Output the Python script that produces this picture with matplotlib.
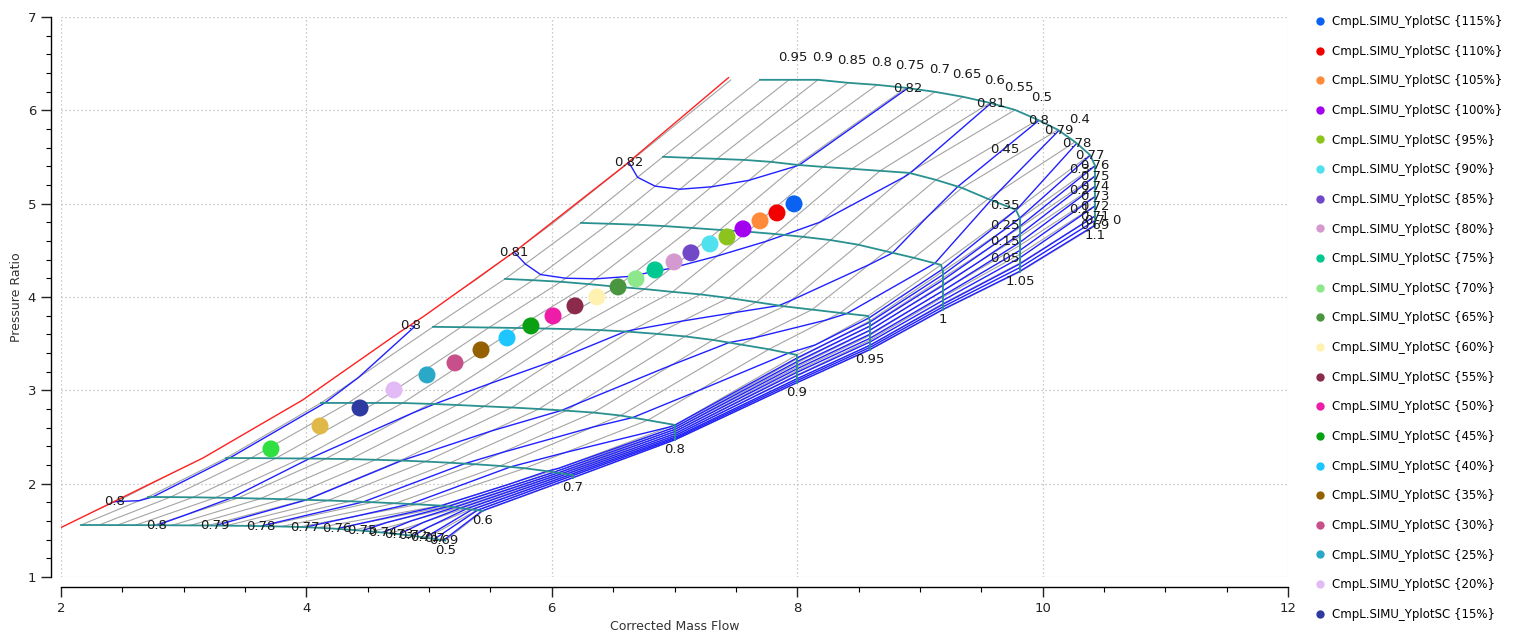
import numpy as np
import matplotlib
matplotlib.use("Agg")
import matplotlib.pyplot as plt
from matplotlib.path import Path
from matplotlib.patches import PathPatch
from matplotlib.collections import LineCollection
from matplotlib.lines import Line2D
from matplotlib.ticker import MultipleLocator

# ---- compressor map tables: rows = corrected speed, columns = beta ----
SPEED = [0.5, 0.6, 0.7, 0.8, 0.9, 0.95, 1.0, 1.05, 1.1]
BETA = [1.1, 1.05, 1.0, 0.95, 0.9, 0.85, 0.8, 0.75, 0.7, 0.65, 0.6, 0.55,
        0.5, 0.45, 0.4, 0.35, 0.3, 0.25, 0.2, 0.15, 0.1, 0.05, 0.0]

MASS_FLOW = [
    [1.867, 2.015, 2.163, 2.311, 2.460, 2.608, 2.757, 2.905, 3.053, 3.202, 3.350, 3.499,
     3.647, 3.795, 3.944, 4.092, 4.241, 4.389, 4.537, 4.686, 4.834, 4.983, 5.131],
    [2.343, 2.526, 2.709, 2.892, 3.076, 3.259, 3.442, 3.626, 3.809, 3.992, 4.175, 4.359,
     4.542, 4.725, 4.909, 5.092, 5.142, 5.191, 5.241, 5.290, 5.340, 5.389, 5.439],
    [2.939, 3.142, 3.345, 3.548, 3.751, 3.954, 4.157, 4.360, 4.563, 4.766, 4.969, 5.172,
     5.375, 5.578, 5.781, 5.985, 6.016, 6.048, 6.079, 6.110, 6.142, 6.173, 6.173],
    [3.675, 3.897, 4.119, 4.341, 4.563, 4.785, 5.007, 5.229, 5.451, 5.673, 5.895, 6.117,
     6.339, 6.561, 6.783, 7.004, 7.004, 7.004, 7.004, 7.004, 7.004, 7.004, 7.004],
    [4.576, 4.804, 5.032, 5.260, 5.488, 5.717, 5.945, 6.173, 6.401, 6.629, 6.857, 7.085,
     7.314, 7.542, 7.770, 7.998, 7.998, 7.998, 7.998, 7.998, 7.998, 7.998, 7.998],
    [5.164, 5.392, 5.619, 5.847, 6.074, 6.302, 6.529, 6.757, 6.984, 7.212, 7.439, 7.667,
     7.894, 8.122, 8.349, 8.577, 8.593, 8.593, 8.593, 8.593, 8.593, 8.593, 8.593],
    [5.786, 6.012, 6.238, 6.464, 6.690, 6.916, 7.142, 7.368, 7.594, 7.820, 8.046, 8.272,
     8.498, 8.724, 8.950, 9.172, 9.188, 9.188, 9.188, 9.188, 9.188, 9.188, 9.188],
    [6.466, 6.686, 6.906, 7.126, 7.346, 7.566, 7.786, 7.998, 8.210, 8.447, 8.675, 8.911,
     9.131, 9.343, 9.555, 9.783, 9.816, 9.816, 9.816, 9.816, 9.816, 9.816, 9.816],
    [7.225, 7.461, 7.697, 7.933, 8.169, 8.414, 8.650, 8.887, 9.123, 9.351, 9.571, 9.775,
     9.962, 10.125, 10.264, 10.386, 10.427, 10.427, 10.427, 10.427, 10.427, 10.427, 10.427],
]

PRESSURE_RATIO = [
    [1.557, 1.557, 1.557, 1.557, 1.556, 1.556, 1.555, 1.554, 1.553, 1.552, 1.550, 1.548,
     1.545, 1.541, 1.536, 1.528, 1.517, 1.503, 1.487, 1.468, 1.446, 1.420, 1.390],
    [1.857, 1.857, 1.857, 1.856, 1.854, 1.850, 1.846, 1.840, 1.834, 1.827, 1.820, 1.811,
     1.801, 1.790, 1.778, 1.765, 1.757, 1.749, 1.741, 1.733, 1.724, 1.716, 1.707],
    [2.275, 2.275, 2.275, 2.274, 2.272, 2.270, 2.267, 2.263, 2.256, 2.248, 2.237, 2.224,
     2.208, 2.190, 2.165, 2.130, 2.123, 2.116, 2.110, 2.103, 2.096, 2.089, 2.061],
    [2.865, 2.865, 2.865, 2.865, 2.865, 2.864, 2.855, 2.843, 2.829, 2.816, 2.800, 2.782,
     2.762, 2.730, 2.680, 2.629, 2.606, 2.583, 2.560, 2.537, 2.514, 2.491, 2.468],
    [3.680, 3.680, 3.680, 3.677, 3.673, 3.668, 3.662, 3.655, 3.645, 3.628, 3.605, 3.578,
     3.540, 3.490, 3.440, 3.379, 3.336, 3.293, 3.250, 3.208, 3.165, 3.122, 3.079],
    [4.194, 4.194, 4.194, 4.180, 4.163, 4.138, 4.110, 4.085, 4.055, 4.028, 3.990, 3.945,
     3.900, 3.865, 3.830, 3.797, 3.745, 3.693, 3.641, 3.589, 3.537, 3.485, 3.433],
    [4.794, 4.794, 4.794, 4.785, 4.775, 4.760, 4.740, 4.719, 4.700, 4.675, 4.645, 4.610,
     4.560, 4.490, 4.420, 4.344, 4.275, 4.206, 4.137, 4.068, 3.999, 3.931, 3.862],
    [5.502, 5.502, 5.502, 5.491, 5.480, 5.469, 5.448, 5.416, 5.394, 5.373, 5.352, 5.330,
     5.255, 5.169, 5.051, 4.934, 4.839, 4.744, 4.649, 4.554, 4.459, 4.364, 4.269],
    [6.327, 6.327, 6.327, 6.327, 6.327, 6.295, 6.273, 6.241, 6.198, 6.145, 6.080, 6.005,
     5.898, 5.791, 5.662, 5.523, 5.410, 5.300, 5.190, 5.080, 4.980, 4.870, 4.760],
]

EFFICIENCY = [
    [0.8020, 0.8020, 0.8020, 0.8022, 0.8022, 0.8015, 0.8003, 0.7985, 0.7950, 0.7915, 0.7875, 0.7835,
     0.7795, 0.7755, 0.7715, 0.7665, 0.7605, 0.7535, 0.7455, 0.7355, 0.7235, 0.7085, 0.6880],
    [0.7993, 0.7996, 0.7997, 0.8012, 0.8018, 0.8012, 0.7995, 0.7970, 0.7935, 0.7902, 0.7865, 0.7825,
     0.7782, 0.7735, 0.7682, 0.7612, 0.7522, 0.7432, 0.7332, 0.7232, 0.7122, 0.7012, 0.6880],
    [0.7950, 0.7975, 0.7997, 0.8018, 0.8025, 0.8008, 0.7985, 0.7960, 0.7932, 0.7902, 0.7865, 0.7825,
     0.7782, 0.7725, 0.7665, 0.7592, 0.7505, 0.7412, 0.7322, 0.7222, 0.7122, 0.7005, 0.6880],
    [0.7960, 0.7980, 0.7996, 0.8025, 0.8035, 0.8025, 0.8003, 0.7985, 0.7970, 0.7950, 0.7925, 0.7895,
     0.7862, 0.7822, 0.7772, 0.7705, 0.7605, 0.7505, 0.7405, 0.7305, 0.7192, 0.7062, 0.6880],
    [0.7985, 0.7996, 0.8008, 0.8030, 0.8045, 0.8050, 0.8048, 0.8038, 0.8020, 0.7997, 0.7975, 0.7950,
     0.7920, 0.7885, 0.7840, 0.7782, 0.7672, 0.7562, 0.7452, 0.7342, 0.7222, 0.7092, 0.6880],
    [0.8083, 0.8086, 0.8092, 0.8097, 0.8098, 0.8097, 0.8094, 0.8088, 0.8078, 0.8064, 0.8045, 0.8022,
     0.7995, 0.7960, 0.7915, 0.7852, 0.7732, 0.7612, 0.7492, 0.7372, 0.7252, 0.7112, 0.6880],
    [0.8112, 0.8115, 0.8122, 0.8127, 0.8130, 0.8130, 0.8128, 0.8122, 0.8115, 0.8105, 0.8090, 0.8070,
     0.8045, 0.8012, 0.7962, 0.7882, 0.7762, 0.7642, 0.7522, 0.7402, 0.7272, 0.7132, 0.6880],
    [0.8195, 0.8208, 0.8235, 0.8255, 0.8260, 0.8248, 0.8228, 0.8202, 0.8180, 0.8160, 0.8135, 0.8102,
     0.8052, 0.7990, 0.7912, 0.7802, 0.7692, 0.7582, 0.7472, 0.7362, 0.7252, 0.7122, 0.6880],
    [0.8260, 0.8260, 0.8260, 0.8260, 0.8250, 0.8240, 0.8225, 0.8202, 0.8170, 0.8140, 0.8102, 0.8055,
     0.8005, 0.7905, 0.7812, 0.7705, 0.7605, 0.7505, 0.7405, 0.7305, 0.7205, 0.7105, 0.6880],
]

EFF_LEVELS = [0.69, 0.70, 0.71, 0.72, 0.73, 0.74, 0.75, 0.76, 0.77,
              0.78, 0.79, 0.80, 0.81, 0.82]

# surge line
SURGE_W = [2.0, 3.157, 3.97, 4.763, 4.95, 5.716, 6.58, 7.44]
SURGE_PR = [1.53, 2.275, 2.897, 3.626, 3.787, 4.505, 5.394, 6.35]

# simulated operating points
OP_LABELS = ["115%", "110%", "105%", "100%", "95%", "90%", "85%", "80%", "75%", "70%",
             "65%", "60%", "55%", "50%", "45%", "40%", "35%", "30%", "25%", "20%",
             "15%", "10%", "5%"]
OP_W = [7.974, 7.835, 7.697, 7.558, 7.428, 7.289, 7.134, 6.996, 6.841, 6.686,
        6.540, 6.368, 6.189, 6.010, 5.830, 5.635, 5.423, 5.211, 4.983, 4.714,
        4.437, 4.111, 3.711]
OP_PR = [4.998, 4.901, 4.816, 4.730, 4.644, 4.569, 4.473, 4.376, 4.290, 4.194,
         4.108, 4.001, 3.905, 3.797, 3.690, 3.562, 3.433, 3.294, 3.165, 3.004,
         2.811, 2.618, 2.372]
OP_COLORS = ["#0a62f2", "#f20000", "#ff8a3a", "#a400f0", "#8cc31c", "#50e0ee", "#7048c8",
             "#d49ad0", "#00c890", "#8ce88a", "#4a9640", "#fff2b0", "#8c2a4c", "#ee1ca6",
             "#0aa014", "#1ec6ff", "#946000", "#c8508a", "#2aa8c8", "#e2baf6", "#2e3aa0",
             "#e0b848", "#30e040"]
LEGEND_ROWS = 21  # the legend column holds as many entries as fit the figure height

W = np.array(MASS_FLOW)
PR = np.array(PRESSURE_RATIO)
EFF = np.array(EFFICIENCY)
i_beta1 = BETA.index(1.0)


def densify(seg, k=30):
    """Resample a polyline so that clipping tests find the true crossing."""
    pts = [seg[0]]
    t = np.linspace(0.0, 1.0, k + 1)[1:, None]
    for a, b in zip(seg[:-1], seg[1:]):
        pts.extend(a + (b - a) * t)
    return np.array(pts)


plt.rcParams["font.family"] = ["DejaVu Sans"]
fig = plt.figure(figsize=(15.25, 6.37), dpi=100)
ax = fig.add_axes([61 / 1525, 60 / 637, 1227 / 1525, 560 / 637])
ax.set_xlim(2, 12)
ax.set_ylim(1, 7)

# axes styling
for side in ("top", "right"):
    ax.spines[side].set_visible(False)
for side in ("left", "bottom"):
    ax.spines[side].set_position(("outward", 7.2))
    ax.spines[side].set_linewidth(1.0)
ax.xaxis.set_major_locator(MultipleLocator(2))
ax.xaxis.set_minor_locator(MultipleLocator(0.5))
ax.yaxis.set_major_locator(MultipleLocator(1))
ax.yaxis.set_minor_locator(MultipleLocator(0.2))
ax.tick_params(which="major", length=7.2, width=1.0, labelsize=9.5, colors="#222222")
ax.tick_params(which="minor", length=3.6, width=0.8)
ax.grid(which="major", linestyle=(0, (1, 2.2)), color="#b8b8b8", linewidth=0.9)
ax.set_axisbelow(True)
ax.set_xlabel("Corrected Mass Flow", fontsize=9, color="#333333", labelpad=4)
ax.set_ylabel("Pressure Ratio", fontsize=9, color="#333333", labelpad=3.5)

# region to the right of the surge line
clip_poly = ([(1.5, 1.208)] + list(zip(SURGE_W, SURGE_PR)) +
             [(7.9, 6.9), (13.0, 6.9), (13.0, 0.5), (1.5, 0.5)])
clip_path = Path(clip_poly)
clip_patch = PathPatch(clip_path, transform=ax.transData, facecolor="none", edgecolor="none")

# beta lines
beta_segs = [np.column_stack([W[:, j], PR[:, j]]) for j in range(len(BETA))]
beta_lc = LineCollection(beta_segs, colors="#a4a4a4", linewidths=0.8, zorder=1)
beta_lc.set_clip_path(clip_patch)
ax.add_collection(beta_lc)

# efficiency contours
cs = ax.contour(W, PR, EFF, levels=EFF_LEVELS, colors="#2020ff", linewidths=1.0, zorder=2)
cs.set_clip_path(clip_patch)

# speed lines
for i in range(len(SPEED)):
    ax.plot(W[i, i_beta1:], PR[i, i_beta1:], color="#2a9090", lw=1.3, zorder=3)

# surge line
ax.plot(SURGE_W, SURGE_PR, color="#ff2020", lw=1.0, zorder=4)

label_kw = dict(fontsize=9.5, color="#1a1a1a", ha="center", va="center", zorder=5)

# efficiency labels at both visible ends of every contour piece
for lvl, segs in zip(cs.levels, cs.allsegs):
    for seg in segs:
        if len(seg) < 2:
            continue
        fine = densify(seg)
        inside = fine[clip_path.contains_points(fine)]
        if len(inside) < 2:
            continue
        for pt in (inside[0], inside[-1]):
            ax.text(pt[0], pt[1], f"{lvl:g}", **label_kw)

# speed labels at the choke end of each speed line
for i, n in enumerate(SPEED):
    ax.annotate(f"{n:g}", (W[i, -1], PR[i, -1]), xytext=(0, -7),
                textcoords="offset points", **label_kw)

# beta labels
mid_label_betas = (0.45, 0.35, 0.25, 0.15, 0.05)
side_label_betas = (0.3, 0.2, 0.1)
for j, b in enumerate(BETA):
    if b > 0.96:
        continue
    if b in mid_label_betas:
        x = 9.69
        y = np.interp(x, W[:, j], PR[:, j])
        ax.annotate(f"{b:g}", (x, y), xytext=(0, 9), textcoords="offset points", **label_kw)
    elif b in side_label_betas:
        ax.annotate(f"{b:g}", (W[-1, j], PR[-1, j]), xytext=(-11, -3),
                    textcoords="offset points", **label_kw)
    elif b == 0.0:
        ax.annotate(f"{b:g}", (W[-1, j], PR[-1, j]), xytext=(15, 4),
                    textcoords="offset points", **label_kw)
    else:
        ax.annotate(f"{b:g}", (W[-1, j], PR[-1, j]), xytext=(3, 16),
                    textcoords="offset points", **label_kw)

# operating points
for w, p, c in zip(OP_W, OP_PR, OP_COLORS):
    ax.scatter([w], [p], s=150, color=c, edgecolors="none", zorder=6)

handles = [Line2D([], [], ls="", marker="o", markersize=6, color=c, markeredgewidth=0)
           for c in OP_COLORS[:LEGEND_ROWS]]
labels = [f"CmpL.SIMU_YplotSC {{{t}}}" for t in OP_LABELS[:LEGEND_ROWS]]
fig.legend(handles, labels, loc="upper left", bbox_to_anchor=(1315 / 1525, 1 - 15 / 637),
           frameon=False, fontsize=8.5, handlelength=0.8, handletextpad=0.6,
           labelspacing=1.41, borderaxespad=0, borderpad=0)

fig.savefig("out.png", dpi=100)
